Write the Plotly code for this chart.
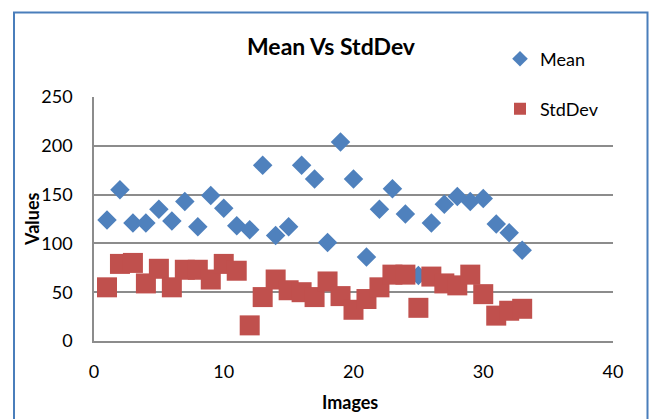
import plotly.graph_objects as go

images = list(range(1, 34))
mean_vals = [124, 155, 121, 121, 135, 123, 143, 117, 149, 136, 118, 114, 180, 108, 117,
             180, 166, 101, 204, 166, 86, 135, 156, 130, 67, 121, 140, 148, 143, 146,
             120, 111, 93]
std_vals = [55, 79, 80, 59, 74, 55, 73, 73, 63, 79, 72, 16, 45, 63, 52, 50, 45, 61,
            46, 32, 43, 55, 68, 68, 34, 66, 59, 57, 68, 48, 26, 31, 33]
x_ticks = [0, 10, 20, 30, 40]
y_ticks = [0, 50, 100, 150, 200, 250]

FONT = "Lato"
W, H = 651, 419
L, R, T, B = 94, 38, 97, 78
pw, ph = W - L - R, H - T - B

def px(x):
    return (x - L) / pw

def py(y):
    return (H - B - y) / ph

fig = go.Figure()
fig.add_trace(go.Scatter(x=images, y=mean_vals, mode="markers", name="Mean",
                         marker=dict(symbol="diamond", size=15, color="#4F81BD",
                                     line=dict(width=0)),
                         legend="legend"))
fig.add_trace(go.Scatter(x=images, y=std_vals, mode="markers", name="StdDev",
                         marker=dict(symbol="square", size=20, color="#C0504D",
                                     line=dict(width=0)),
                         legend="legend2"))

axis_font = dict(family=FONT, size=18, color="#000000")
fig.update_layout(
    width=W, height=H,
    margin=dict(l=L, r=R, t=T, b=B),
    paper_bgcolor="white", plot_bgcolor="white",
    font=dict(family=FONT, color="#000000"),
    title=dict(text="<b>Mean Vs StdDev</b>", font=dict(family=FONT, size=23, color="#000"),
               x=px(331), xref="paper", xanchor="center",
               y=1 - 47 / H, yref="container", yanchor="middle"),
    xaxis=dict(range=[0, 40], tickvals=x_ticks, showgrid=False, zeroline=False,
               showline=True, linecolor="#8C8C8C", linewidth=1.5,
               tickfont=axis_font, ticks="", ticklabelstandoff=14),
    yaxis=dict(range=[0, 250], tickvals=y_ticks, showgrid=True, gridcolor="#8C8C8C",
               gridwidth=1.5, zeroline=False, showline=True, linecolor="#8C8C8C",
               linewidth=1.5, tickfont=axis_font, ticks="", ticklabelstandoff=16),
    legend=dict(x=px(500), y=py(59), xanchor="left", yanchor="middle",
                font=dict(family=FONT, size=18, color="#000"), bgcolor="rgba(0,0,0,0)",
                itemsizing="constant"),
    legend2=dict(x=px(500), y=py(109), xanchor="left", yanchor="middle",
                 font=dict(family=FONT, size=18, color="#000"), bgcolor="white",
                 itemsizing="constant"),
    showlegend=True,
    annotations=[
        dict(text="<b>Values</b>", xref="paper", yref="paper", x=px(32), y=py(219),
             xanchor="center", yanchor="middle", textangle=-90, showarrow=False,
             font=dict(family=FONT, size=18, color="#000")),
        dict(text="<b>Images</b>", xref="paper", yref="paper", x=px(350), y=py(402),
             xanchor="center", yanchor="middle", showarrow=False,
             font=dict(family=FONT, size=18, color="#000")),
    ],
    shapes=[
        dict(type="rect", xref="paper", yref="paper", x0=px(14), x1=px(647.5),
             y0=py(425), y1=py(12.5), line=dict(color="#4A7EBB", width=2),
             fillcolor="rgba(0,0,0,0)", layer="below"),
    ],
)

fig.write_html("out.html")
